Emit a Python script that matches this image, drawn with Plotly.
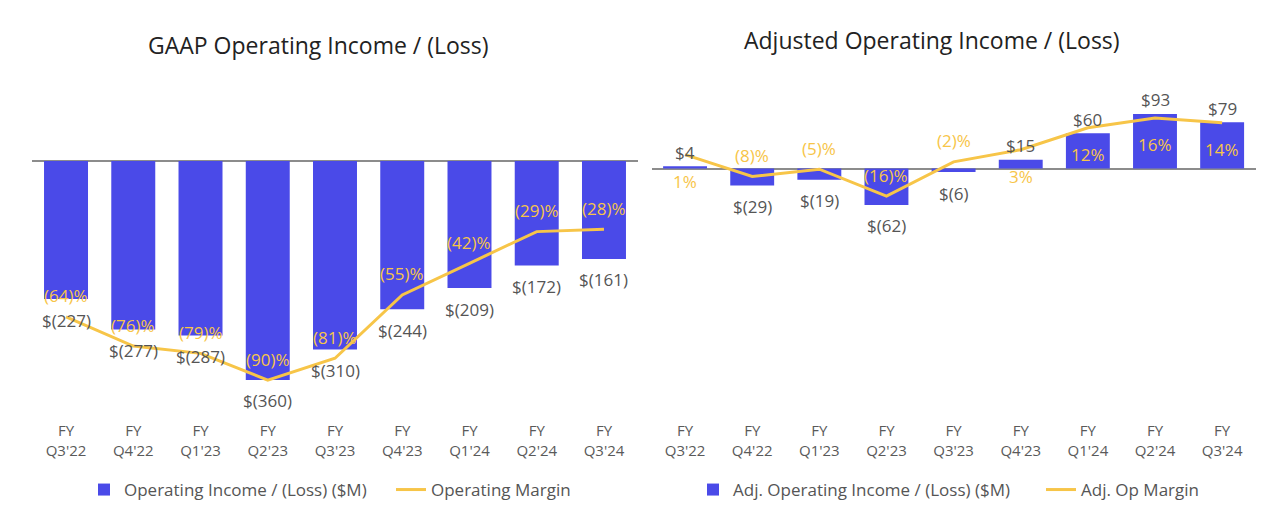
import plotly.graph_objects as go

quarters = ["Q3'22", "Q4'22", "Q1'23", "Q2'23", "Q3'23", "Q4'23", "Q1'24", "Q2'24", "Q3'24"]
gaap_income = [-227, -277, -287, -360, -310, -244, -209, -172, -161]
gaap_margin = [-64, -76, -79, -90, -81, -55, -42, -29, -28]
adj_income = [4, -29, -19, -62, -6, 15, 60, 93, 79]
adj_margin = [1, -8, -5, -16, -2, 3, 12, 16, 14]
tick_text = ["FY<br>" + q for q in quarters]

OFF = 8  # page body margin
W, H = 1280 - OFF, 516 - OFF
BLUE = "#4A4AE8"
GOLD = "#F7C548"
GREY = "#555555"
FONT = "Open Sans"


def px(v):
    return v - OFF


top_px, bot_px = px(70), px(420)


def yrange(zero_px, px_per_unit):
    z = px(zero_px)
    return [-(bot_px - z) / px_per_unit, (z - top_px) / px_per_unit]


def money(v):
    return f"${v}" if v >= 0 else f"$({-v})"


def pct(v):
    return f"{v}%" if v >= 0 else f"({-v})%"


fig = go.Figure()
fig.add_trace(go.Bar(x=quarters, y=gaap_income, marker_color=BLUE, name="Operating Income / (Loss) ($M)",
                     xaxis="x", yaxis="y", legend="legend", showlegend=True, marker_line_width=0))
fig.add_trace(go.Scatter(x=quarters, y=gaap_margin, mode="lines", line=dict(color=GOLD, width=3),
                         name="Operating Margin", xaxis="x", yaxis="y2", legend="legend2", showlegend=True))
fig.add_trace(go.Bar(x=quarters, y=adj_income, marker_color=BLUE, name="Adj. Operating Income / (Loss) ($M)",
                     xaxis="x2", yaxis="y3", legend="legend3", showlegend=True, marker_line_width=0))
fig.add_trace(go.Scatter(x=quarters, y=adj_margin, mode="lines", line=dict(color=GOLD, width=3),
                         name="Adj. Op Margin", xaxis="x2", yaxis="y4", legend="legend4", showlegend=True))

ann = []
for xr, yb, yl, inc, mar in [("x", "y", "y2", gaap_income, gaap_margin), ("x2", "y3", "y4", adj_income, adj_margin)]:
    for q, v, m in zip(quarters, inc, mar):
        ann.append(dict(x=q, y=v, xref=xr, yref=yb, text=money(v), showarrow=False,
                        yshift=14 if v > 0 else -21, font=dict(size=17, color=GREY, family=FONT)))
        ann.append(dict(x=q, y=m, xref=xr, yref=yl, text=pct(m), showarrow=False,
                        yshift=-27 if m > 0 else 21, font=dict(size=17, color=GOLD, family=FONT)))

ann.append(dict(x=px(318) / W, y=1 - px(45) / H, xref="paper", yref="paper", xanchor="center", yanchor="middle",
                text="GAAP Operating Income / (Loss)", showarrow=False,
                font=dict(size=23, color="#222222", family=FONT)))
ann.append(dict(x=px(932) / W, y=1 - px(40) / H, xref="paper", yref="paper", xanchor="center", yanchor="middle",
                text="Adjusted Operating Income / (Loss)", showarrow=False,
                font=dict(size=23, color="#222222", family=FONT)))

ydom = [1 - bot_px / H, 1 - top_px / H]
xcommon = dict(type="category", tickmode="array", tickvals=quarters, ticktext=tick_text, showgrid=False,
               showline=False, ticks="", tickfont=dict(size=15, color="#5a5a5a", family=FONT))
yhidden = dict(showticklabels=False, showgrid=False, ticks="", showline=False)


def legend_at(xpage):
    return dict(orientation="h", x=px(xpage) / W, y=1 - px(490) / H, xanchor="left", yanchor="middle",
                font=dict(size=17, color=GREY, family=FONT), bgcolor="rgba(0,0,0,0)")


fig.update_layout(
    width=W, height=H, margin=dict(l=0, r=0, t=0, b=0),
    paper_bgcolor="white", plot_bgcolor="white",
    showlegend=True,
    bargap=0.346,
    font=dict(family=FONT, color=GREY),
    xaxis=dict(domain=[px(32.4) / W, px(637.6) / W], anchor="y", **xcommon),
    yaxis=dict(domain=ydom, anchor="x", range=yrange(161, 0.608), zeroline=True, zerolinecolor="#8c8c8c",
               zerolinewidth=1.5, **yhidden),
    yaxis2=dict(overlaying="y", anchor="x", side="right", range=yrange(161, 2.435), zeroline=False, **yhidden),
    xaxis2=dict(domain=[px(651.5) / W, px(1255.7) / W], anchor="y3", **xcommon),
    yaxis3=dict(domain=ydom, anchor="x2", range=yrange(168.5, 0.587), zeroline=True, zerolinecolor="#8c8c8c",
                zerolinewidth=1.5, **yhidden),
    yaxis4=dict(overlaying="y3", anchor="x2", side="right", range=yrange(157, 2.44), zeroline=False, **yhidden),
    legend=legend_at(84),
    legend2=legend_at(391),
    legend3=legend_at(693),
    legend4=legend_at(1041),
    annotations=ann,
)

fig.write_html("out.html")
